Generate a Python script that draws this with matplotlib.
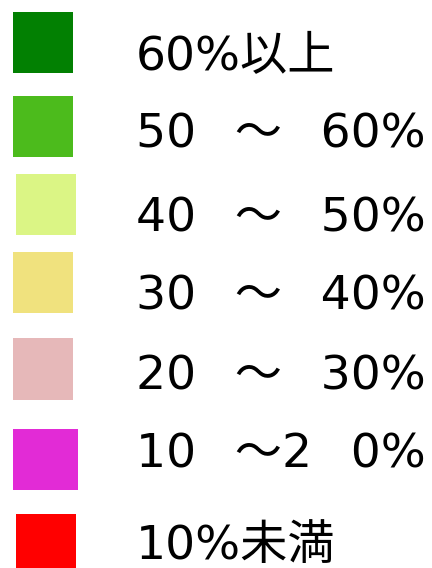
import matplotlib
matplotlib.use("Agg")
import matplotlib.pyplot as plt
from matplotlib.patches import Rectangle

plt.rcParams['font.family'] = ['DejaVu Sans', 'Noto Sans CJK JP']

# legend entries (top to bottom)
gap = " \u2002"
labels = ["60%以上", "50" + gap + "～" + gap + "60%", "40" + gap + "～" + gap + "50%",
          "30" + gap + "～" + gap + "40%", "20" + gap + "～" + gap + "30%",
          "10" + gap + "～2" + gap + "0%", "10%未満"]
colors = ["#028002", "#4cbb1c", "#dbf585", "#f0e27e",
          "#e6b8b9", "#e22bd6", "#ff0000"]

# layout in pixels (the image is a hand placed legend)
box_left = [13, 13, 16, 13, 13, 13, 16]
box_top = [12, 96, 174, 252, 338, 429, 514]
box_w = [60, 60, 60, 60, 60, 65, 60]
box_h = [61, 61, 61, 61, 62, 61, 60]
text_x = 136
text_base = [70, 147, 232, 309, 390, 468, 559]

fig = plt.figure(figsize=(4.32, 5.68), dpi=100)
ax = fig.add_axes([0, 0, 1, 1])
ax.set_xlim(0, 432)
ax.set_ylim(568, 0)
ax.axis('off')

for i in range(len(labels)):
    ax.add_patch(Rectangle((box_left[i], box_top[i]), box_w[i], box_h[i],
                           facecolor=colors[i], edgecolor='none'))
    ax.text(text_x, text_base[i], labels[i], fontsize=34, color='black',
            va='baseline', ha='left')

fig.savefig("out.png", dpi=100)
